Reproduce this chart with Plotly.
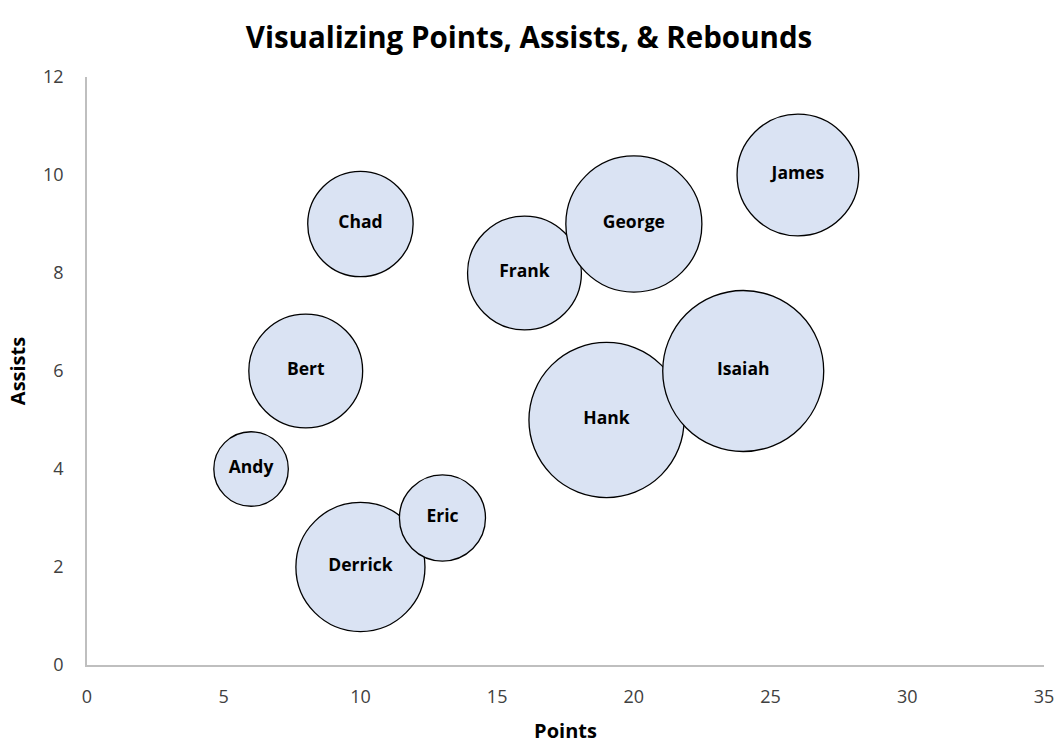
import plotly.graph_objects as go

players = ["Andy", "Bert", "Chad", "Derrick", "Eric", "Frank", "George", "Hank", "Isaiah", "James"]
points = [6, 8, 10, 10, 13, 16, 20, 19, 24, 26]
assists = [4, 6, 9, 2, 3, 8, 9, 5, 6, 10]
rebounds = [3, 7, 6, 9, 4, 7, 10, 13, 14, 8]

x_ticks = [0, 5, 10, 15, 20, 25, 30, 35]
y_ticks = [0, 2, 4, 6, 8, 10, 12]

max_diameter = 161
sizeref = 2.0 * max(rebounds) / (max_diameter ** 2)

FONT = "Open Sans"

fig = go.Figure(
    go.Scatter(
        x=points,
        y=assists,
        mode="markers+text",
        text=players,
        textposition="middle center",
        textfont=dict(family=FONT, size=17.5, color="#000000", weight="bold"),
        marker=dict(
            size=rebounds,
            sizemode="area",
            sizeref=sizeref,
            color="#DAE3F3",
            opacity=1,
            line=dict(color="#000000", width=1.3),
        ),
        cliponaxis=False,
        showlegend=False,
        hoverinfo="skip",
    )
)

fig.update_layout(
    width=1058,
    height=744,
    paper_bgcolor="#FFFFFF",
    plot_bgcolor="#FFFFFF",
    margin=dict(l=87, r=14, t=77, b=79, autoexpand=False),
    title=dict(
        text="<b>Visualizing Points, Assists, & Rebounds</b>",
        x=0.5,
        xanchor="center",
        y=0.95,
        yanchor="middle",
        font=dict(family=FONT, size=29.5, color="#000000"),
        automargin=False,
    ),
    xaxis=dict(
        range=[0, 35],
        tickvals=x_ticks,
        ticktext=[str(v) for v in x_ticks],
        showgrid=False,
        zeroline=False,
        showline=True,
        linecolor="#BFBFBF",
        linewidth=1.5,
        ticks="outside",
        ticklen=15,
        tickcolor="rgba(0,0,0,0)",
        tickfont=dict(family=FONT, size=18, color="#404040"),
        automargin=False,
        title=dict(text="<b>Points</b>", font=dict(family=FONT, size=20, color="#000000"), standoff=22),
    ),
    yaxis=dict(
        range=[0, 12],
        tickvals=y_ticks,
        ticktext=[str(v) for v in y_ticks],
        showgrid=False,
        zeroline=False,
        showline=True,
        linecolor="#BFBFBF",
        linewidth=1.5,
        ticks="outside",
        ticklen=18,
        tickcolor="rgba(0,0,0,0)",
        tickfont=dict(family=FONT, size=18, color="#404040"),
        automargin=False,
        title=dict(text="<b>Assists</b>", font=dict(family=FONT, size=20, color="#000000"), standoff=12),
    ),
)

fig.write_html(
    "out.html",
    config={"displayModeBar": False},
    post_script="document.body.style.margin='0';document.body.style.overflow='hidden';",
)
